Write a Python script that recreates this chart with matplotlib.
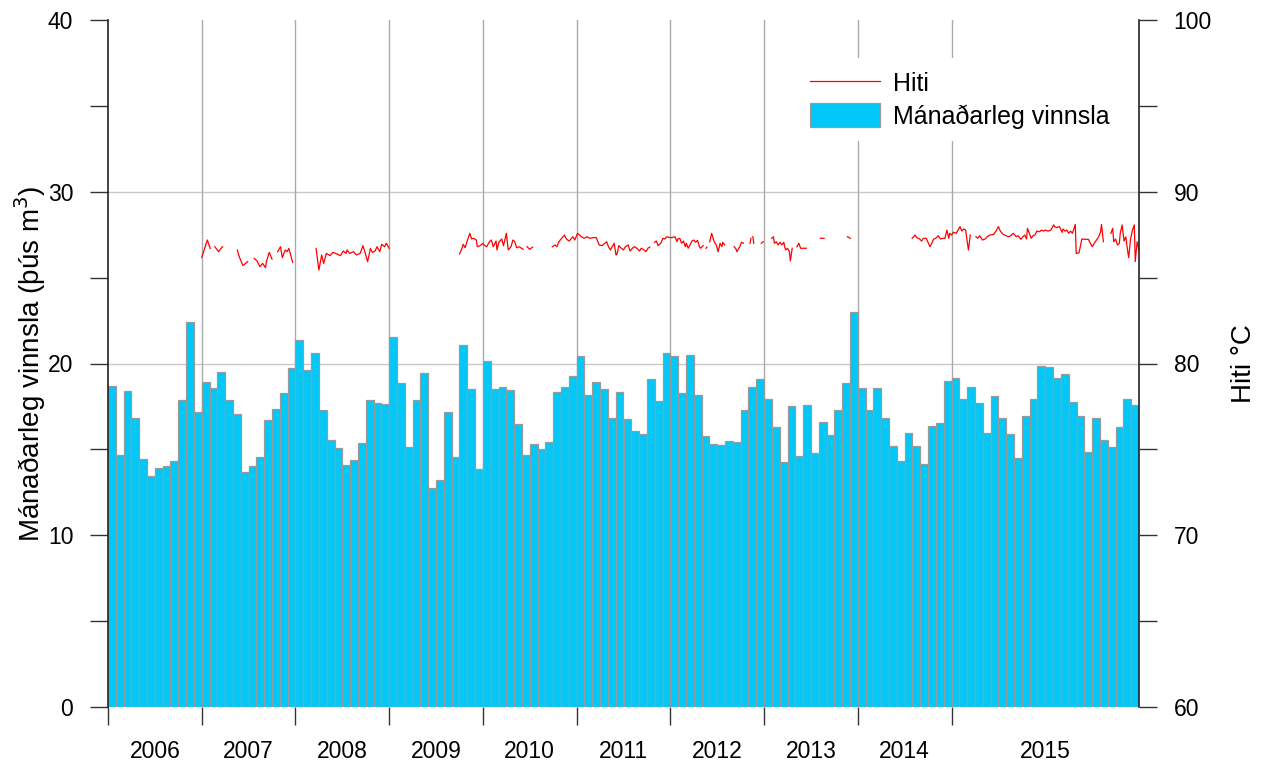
import numpy as np
import matplotlib
matplotlib.use('Agg')
import matplotlib.pyplot as plt
from matplotlib.ticker import MultipleLocator, FixedLocator, NullFormatter, FixedFormatter

plt.rcParams['font.family'] = ['Liberation Sans', 'DejaVu Sans']

start_year = 2006

# Monthly production (thousand m3), Jan 2006 .. Dec 2016
vol_2006 = [18.70, 14.68, 18.39, 16.82, 14.45, 13.44, 13.90, 14.02, 14.31, 17.86, 22.39, 17.17]
vol_2007 = [18.95, 18.56, 19.50, 17.90, 17.07, 13.67, 14.02, 14.56, 16.70, 17.36, 18.27, 19.75]
vol_2008 = [21.38, 19.61, 20.60, 17.28, 15.53, 15.07, 14.08, 14.41, 15.40, 17.86, 17.69, 17.67]
vol_2009 = [21.57, 18.87, 15.11, 17.90, 19.44, 12.78, 13.24, 17.20, 14.54, 21.07, 18.54, 13.88]
vol_2010 = [20.12, 18.52, 18.62, 18.45, 16.50, 14.66, 15.34, 15.05, 15.44, 18.33, 18.62, 19.30]
vol_2011 = [20.41, 18.19, 18.91, 18.52, 16.85, 18.33, 16.76, 16.06, 15.88, 19.07, 17.83, 20.64]
vol_2012 = [20.41, 18.31, 20.52, 18.17, 15.75, 15.34, 15.28, 15.48, 15.42, 17.30, 18.62, 19.07]
vol_2013 = [17.96, 16.33, 14.29, 17.51, 14.64, 17.57, 14.76, 16.62, 15.81, 17.28, 18.85, 22.99]
vol_2014 = [18.56, 17.30, 18.60, 16.82, 15.18, 14.35, 15.98, 15.18, 14.14, 16.39, 16.54, 18.97]
vol_2015 = [19.15, 17.92, 18.64, 17.71, 15.98, 18.08, 16.82, 15.92, 14.47, 16.93, 17.96, 19.83]
vol_2016 = [19.77, 19.13, 19.40, 17.73, 16.97, 14.87, 16.85, 15.53, 15.15, 16.33, 17.94, 17.61]
monthly_volume = (vol_2006 + vol_2007 + vol_2008 + vol_2009 + vol_2010 + vol_2011 +
                  vol_2012 + vol_2013 + vol_2014 + vol_2015 + vol_2016)

nan = np.nan
# Temperature (°C), decimal year; nan marks gaps
temp_year = [
    2007.00, 2007.06, 2007.09, nan,
    2007.14, 2007.18, 2007.22, nan,
    2007.38, 2007.40, 2007.44, 2007.49, nan,
    2007.56, 2007.59, 2007.62, 2007.65, 2007.68, 2007.69, 2007.72, 2007.75, nan,
    2007.81, 2007.84, 2007.86, 2007.89, 2007.91, 2007.93, 2007.97, nan,
    2008.22, 2008.25, 2008.28, 2008.30, 2008.33, 2008.37, 2008.40, 2008.45, 2008.48, 2008.51,
    2008.54, 2008.55, 2008.58, 2008.62, 2008.65, 2008.69, 2008.72, 2008.74, 2008.77, 2008.80,
    2008.82, 2008.85, 2008.87, 2008.90, 2008.92, 2008.95, 2008.97, 2009.00, nan,
    2009.75, 2009.77, 2009.79, 2009.81, 2009.83, 2009.86, 2009.88, 2009.90, 2009.93, 2009.94,
    2009.97, 2010.00, 2010.01, 2010.04, 2010.07, 2010.09, 2010.11, 2010.14, 2010.15, 2010.17,
    2010.20, 2010.22, 2010.25, 2010.27, 2010.30, 2010.32, 2010.34, 2010.36, 2010.39, 2010.41,
    2010.43, nan,
    2010.47, 2010.50, 2010.53, nan,
    2010.74, 2010.77, 2010.79, 2010.81, 2010.84, 2010.87, 2010.89, 2010.92, 2010.94, 2010.96,
    2010.98, 2011.01, 2011.04, 2011.05, 2011.08, 2011.11, 2011.14, 2011.18, 2011.21, 2011.24,
    2011.27, 2011.30, 2011.32, 2011.34, 2011.36, 2011.40, 2011.42, 2011.43, 2011.45, 2011.47,
    2011.50, 2011.52, 2011.55, 2011.57, 2011.60, 2011.62, 2011.65, 2011.67, 2011.69, 2011.72,
    2011.74, 2011.76, 2011.78, nan,
    2011.83, 2011.85, 2011.87, 2011.90, 2011.92, 2011.94, 2011.96, 2012.00, 2012.01, 2012.05,
    2012.07, 2012.08, 2012.10, 2012.12, 2012.14, 2012.16, 2012.17, 2012.19, 2012.21, 2012.23,
    2012.25, 2012.27, 2012.29, 2012.31, 2012.32, 2012.35, nan,
    2012.38, 2012.39, nan,
    2012.42, 2012.44, 2012.47, 2012.49, 2012.51, 2012.53, 2012.55, 2012.56, 2012.58, nan,
    2012.68, 2012.70, 2012.71, 2012.74, 2012.76, 2012.78, nan,
    2012.85, 2012.86, nan,
    2012.88, 2012.89, nan,
    2012.97, 2012.99, nan,
    2013.08, 2013.10, 2013.11, 2013.13, 2013.15, 2013.17, 2013.19, 2013.21, 2013.22, 2013.23,
    2013.25, 2013.27, 2013.28, 2013.30, nan,
    2013.35, 2013.37, 2013.39, 2013.42, 2013.45, nan,
    2013.60, 2013.64, nan,
    2013.89, 2013.92, nan,
    2014.58, 2014.61, 2014.63, 2014.66, 2014.68, 2014.70, 2014.73, 2014.77, 2014.81, 2014.83,
    2014.86, 2014.88, 2014.91, 2014.93, 2014.95, 2014.97, 2014.98, 2015.00, 2015.02, 2015.05,
    2015.07, 2015.09, 2015.11, 2015.13, 2015.15, 2015.18, 2015.20, nan,
    2015.26, 2015.28, 2015.30, 2015.33, 2015.36, 2015.38, 2015.41, 2015.45, 2015.48, 2015.50,
    2015.52, 2015.55, 2015.58, 2015.61, 2015.63, 2015.66, 2015.69, 2015.71, 2015.74, 2015.76,
    2015.78, 2015.80, 2015.81, 2015.83, 2015.85, 2015.87, 2015.89, 2015.91, 2015.94, 2015.96,
    2015.98, 2016.00, 2016.03, 2016.06, 2016.09, 2016.10, 2016.12, 2016.15, 2016.18, 2016.19,
    2016.21, 2016.23, 2016.25, 2016.27, 2016.29, 2016.32, 2016.33, 2016.36, 2016.39, 2016.42,
    2016.46, 2016.50, 2016.53, 2016.57, 2016.59, 2016.60, 2016.62, nan,
    2016.70, 2016.72, 2016.73, 2016.75, 2016.77, 2016.79, 2016.80, 2016.82, 2016.84, 2016.86,
    2016.87, 2016.89, 2016.91, 2016.93, 2016.95, 2016.96, 2016.98, 2017.00,
]
temp_val = [
    86.18, 87.19, 86.70, nan,
    86.80, 86.51, 86.80, nan,
    86.61, 86.22, 85.70, 85.93, nan,
    86.12, 85.97, 85.64, 85.83, 85.58, 85.93, 86.47, 86.08, nan,
    86.51, 86.80, 86.16, 86.61, 86.51, 86.70, 85.89, nan,
    86.70, 85.44, 86.32, 85.83, 86.41, 86.28, 86.47, 86.36, 86.28, 86.55,
    86.41, 86.61, 86.41, 86.51, 86.32, 86.41, 86.86, 86.51, 85.93, 86.70,
    86.47, 86.55, 86.80, 86.51, 86.94, 86.80, 87.00, 86.70, nan,
    86.38, 86.61, 86.94, 86.74, 87.09, 87.58, 87.25, 87.29, 87.19, 86.80,
    86.86, 87.00, 86.90, 86.80, 87.09, 87.19, 86.80, 87.13, 86.61, 87.06,
    87.25, 86.86, 87.58, 86.61, 86.80, 87.19, 87.09, 86.74, 86.80, 86.71,
    86.65, nan,
    86.80, 86.65, 86.78, nan,
    86.80, 86.90, 86.80, 87.09, 87.29, 87.48, 87.25, 87.13, 87.25, 87.38,
    87.19, 87.58, 87.44, 87.38, 87.29, 87.38, 87.29, 87.33, 87.33, 86.90,
    86.86, 87.00, 87.09, 86.80, 86.61, 87.00, 86.32, 86.36, 86.86, 86.74,
    86.61, 86.80, 86.90, 86.55, 86.74, 86.80, 86.67, 86.55, 86.71, 86.61,
    86.51, 86.71, 86.78, nan,
    87.06, 87.13, 86.86, 87.02, 87.29, 87.25, 87.38, 87.33, 87.33, 87.38,
    87.09, 87.25, 87.29, 87.00, 87.13, 86.80, 87.00, 86.71, 86.90, 87.13,
    87.19, 87.06, 87.17, 86.80, 86.71, 86.86, nan,
    86.71, 86.78, nan,
    87.09, 87.58, 87.06, 86.90, 86.51, 87.00, 86.80, 87.06, 86.90, nan,
    86.80, 86.67, 86.51, 86.80, 87.06, 87.00, nan,
    87.00, 87.29, nan,
    87.38, 87.00, nan,
    87.00, 87.09, nan,
    87.29, 87.38, 87.00, 87.09, 86.90, 87.06, 86.90, 87.06, 86.80, 86.61,
    86.71, 86.51, 85.97, 86.71, nan,
    86.80, 87.00, 86.71, 86.71, 86.71, nan,
    87.29, 87.29, nan,
    87.38, 87.29, nan,
    87.29, 87.48, 87.33, 87.25, 87.13, 87.29, 87.29, 86.80, 87.25, 87.29,
    87.44, 87.25, 87.29, 87.29, 87.77, 87.29, 87.58, 87.48, 87.64, 87.58,
    87.77, 87.97, 87.71, 87.83, 87.77, 86.61, 87.48, nan,
    87.38, 87.29, 87.44, 87.19, 87.25, 87.38, 87.48, 87.52, 87.77, 87.97,
    87.71, 87.52, 87.44, 87.38, 87.44, 87.58, 87.38, 87.44, 87.23, 87.38,
    87.48, 87.25, 87.87, 87.58, 87.29, 87.44, 87.48, 87.71, 87.67, 87.77,
    87.71, 87.77, 87.71, 87.77, 88.07, 87.97, 87.91, 87.97, 87.64, 87.83,
    87.71, 87.77, 87.58, 87.71, 87.58, 88.10, 86.41, 86.44, 87.25, 87.23,
    87.23, 86.80, 87.06, 87.38, 87.67, 88.10, 87.09, nan,
    87.58, 87.87, 87.09, 87.25, 86.90, 87.00, 87.58, 88.07, 87.13, 87.38,
    86.90, 86.16, 87.25, 87.77, 88.07, 85.93, 87.09, 86.61,
]

year_ticks = [2006, 2007, 2008, 2009, 2010, 2011, 2012, 2013, 2014, 2015]
year_labels = ['2006', '2007', '2008', '2009', '2010', '2011', '2012', '2013', '2014', '2015']
year_label_pos = [2006.5, 2007.5, 2008.5, 2009.5, 2010.5, 2011.5, 2012.5, 2013.5, 2014.5, 2016.0]

W, H = 1261, 767
fig = plt.figure(figsize=(W / 100, H / 100), dpi=100)
ax = fig.add_axes([108 / W, 60 / H, 1031 / W, 687 / H])

n = len(monthly_volume)
x = start_year + (np.arange(n) + 0.5) / 12.0
bars = ax.bar(x, monthly_volume, width=1 / 12.0, color='#00C8F8',
              edgecolor='#9A9A9A', linewidth=0.9, zorder=2)

ax.set_xlim(2006, 2017)
ax.set_ylim(0, 40)

# grid
for gy in [10, 20, 30]:
    ax.axhline(gy, color='#C8C8C8', lw=1.0, zorder=0)
for gx in year_ticks[1:]:
    ax.axvline(gx, color='#AAAAAA', lw=1.0, zorder=0)

ax.xaxis.set_major_locator(FixedLocator(year_ticks))
ax.xaxis.set_major_formatter(NullFormatter())
ax.xaxis.set_minor_locator(FixedLocator(year_label_pos))
ax.xaxis.set_minor_formatter(FixedFormatter(year_labels))
ax.tick_params(axis='x', which='major', direction='out', length=13, width=1, color='#333333')
ax.tick_params(axis='x', which='minor', length=0, pad=24, labelsize=16.5)

ax.yaxis.set_major_locator(MultipleLocator(10))
ax.yaxis.set_minor_locator(MultipleLocator(5))
ax.tick_params(axis='y', which='both', direction='out', length=13, width=1,
               color='#333333', labelsize=16.5, pad=12)

for s in ['top', 'bottom', 'right']:
    ax.spines[s].set_visible(False)
ax.spines['left'].set_color('#222222')
ax.spines['left'].set_linewidth(1.2)

ax.set_ylabel('Mánaðarleg vinnsla (þús m$^3$)', fontsize=20, labelpad=0)

ax2 = ax.twinx()
ax2.set_ylim(60, 100)
line, = ax2.plot(temp_year, temp_val, color='#FF0000', lw=0.9)
ax2.yaxis.set_major_locator(MultipleLocator(10))
ax2.yaxis.set_minor_locator(MultipleLocator(5))
ax2.tick_params(axis='y', which='both', direction='out', length=13, width=1,
                color='#333333', labelsize=16.5, pad=12)
for s in ['top', 'bottom', 'left']:
    ax2.spines[s].set_visible(False)
ax2.spines['right'].set_color('#222222')
ax2.spines['right'].set_linewidth(1.2)
ax2.set_ylabel('Hiti °C', fontsize=20, labelpad=14)

leg = ax2.legend([line, bars], ['Hiti', 'Mánaðarleg vinnsla'], loc='upper left',
                 bbox_to_anchor=(0.6688, 0.945), borderaxespad=0, fontsize=18,
                 frameon=True, facecolor='white', edgecolor='none', framealpha=1,
                 handlelength=2.8, handleheight=1.1, handletextpad=0.5,
                 labelspacing=0.3, borderpad=0.5, fancybox=False)

fig.savefig('out.png', dpi=100)
